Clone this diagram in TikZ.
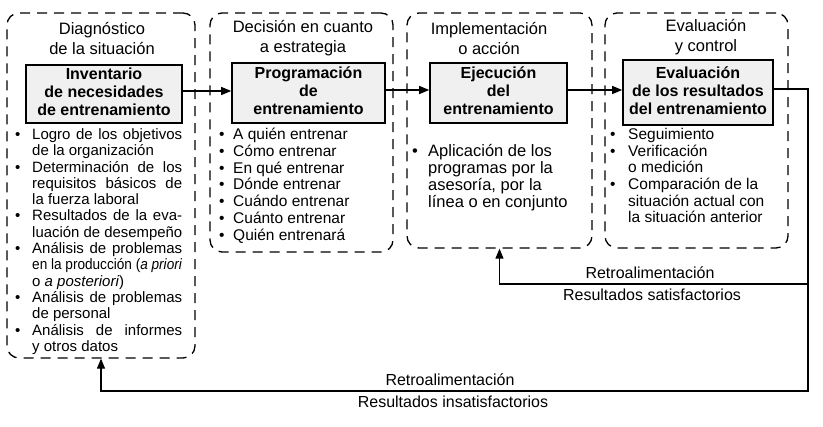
\documentclass[tikz,border=0pt]{standalone}
\usepackage{fontspec}
\usepackage{graphicx}
\setmainfont{Liberation Sans}
\usetikzlibrary{arrows.meta}
\newlength\jw
\newlength\bw
\newsavebox\jlbox
\newcommand\jl[1]{\sbox\jlbox{#1}\ifdim\wd\jlbox>\jw\resizebox{\jw}{\height}{\usebox\jlbox}\else\makebox[\jw][s]{#1}\fi}
\newcommand\bi{\makebox[\bw][l]{•}}
\newcommand\ci{\hspace*{\bw}}
\tikzset{
  grp/.style={draw, rounded corners=12pt, line width=1.3pt, dash pattern=on 10pt off 7pt, inner sep=0pt},
  ibox/.style={draw, line width=1.6pt, fill=gray!12, inner sep=0pt, font=\fontsize{16}{18}\selectfont\bfseries},
  ttl/.style={inner sep=0pt, anchor=base, font=\fontsize{16.5}{20}\selectfont},
  lst/.style={inner sep=0pt, anchor=base west},
  lbl/.style={inner sep=0pt, anchor=base, font=\fontsize{16}{19}\selectfont},
  conn/.style={line width=1.1pt},
  arr/.style={line width=1.1pt, -{Triangle[length=10pt,width=8pt]}}
}
\begin{document}
\begin{tikzpicture}[x=1pt,y=-1pt]
\useasboundingbox (0,0) rectangle (823,427);
% groups
\node[grp, minimum width=188pt, minimum height=345pt] (g1) at (101,185.5) {};
\node[grp, minimum width=183pt, minimum height=239pt] (g2) at (301.5,132.5) {};
\node[grp, minimum width=185pt, minimum height=235pt] (g3) at (499.5,130.5) {};
\node[grp, minimum width=183pt, minimum height=235pt] (g4) at (696.5,130.5) {};
% titles
\node[ttl] (t1) at (102,35) {\begin{tabular}[t]{@{}c@{}}Diagnóstico\\de la situación\end{tabular}};
\node[ttl] (t2) at (303,33) {\begin{tabular}[t]{@{}c@{}}Decisión en cuanto\\a estrategia\end{tabular}};
\node[ttl] (t3) at (489,35) {\begin{tabular}[t]{@{}c@{}}Implementación\\o acción\end{tabular}};
\node[ttl] (t4) at (706,32) {\begin{tabular}[t]{@{}c@{}}Evaluación\\y control\end{tabular}};
% inner boxes
\node[ibox, minimum width=156pt, minimum height=58pt] (b1) at (104,94) {\begin{tabular}{@{}c@{}}Inventario\\de necesidades\\de entrenamiento\end{tabular}};
\node[ibox, minimum width=153pt, minimum height=60pt] (b2) at (308.5,93) {\begin{tabular}{@{}c@{}}Programación\\de\\entrenamiento\end{tabular}};
\node[ibox, minimum width=137pt, minimum height=60pt] (b3) at (498.5,93) {\begin{tabular}{@{}c@{}}Ejecución\\del\\entrenamiento\end{tabular}};
\node[ibox, minimum width=150pt, minimum height=65pt] (b4) at (698,92.5) {\begin{tabular}{@{}c@{}}Evaluación\\de los resultados\\del entrenamiento\end{tabular}};
% lists
\node[lst] (l1) at (15,139.5) {\fontsize{15}{16.3}\selectfont\setlength\bw{17pt}\setlength\jw{150pt}%
\begin{tabular}[t]{@{}l@{}}
\bi\jl{Logro de los objetivos}\\
\ci de la organización\\
\bi\jl{Determinación de los}\\
\ci\jl{requisitos básicos de}\\
\ci la fuerza laboral\\
\bi\jl{Resultados de la eva-}\\
\ci\jl{luación de desempeño}\\
\bi\jl{Análisis de problemas}\\
\ci\jl{en la producción (\textit{a priori}}\\
\ci o \textit{a posteriori})\\
\bi\jl{Análisis de problemas}\\
\ci de personal\\
\bi\jl{Análisis de informes}\\
\ci y otros datos
\end{tabular}};
\node[lst] (l2) at (219,139.5) {\fontsize{15.5}{16.8}\selectfont\setlength\bw{14pt}%
\begin{tabular}[t]{@{}l@{}}
\bi A quién entrenar\\
\bi Cómo entrenar\\
\bi En qué entrenar\\
\bi Dónde entrenar\\
\bi Cuándo entrenar\\
\bi Cuánto entrenar\\
\bi Quién entrenará
\end{tabular}};
\node[lst] (l3) at (412,156.5) {\fontsize{16.5}{16.7}\selectfont\setlength\bw{16pt}%
\begin{tabular}[t]{@{}l@{}}
\bi Aplicación de los\\
\ci programas por la\\
\ci asesoría, por la\\
\ci línea o en conjunto
\end{tabular}};
\node[lst] (l4) at (610,139.5) {\fontsize{15.5}{16.7}\selectfont\setlength\bw{18pt}%
\begin{tabular}[t]{@{}l@{}}
\bi Seguimiento\\
\bi Verificación\\
\ci o medición\\
\bi Comparación de la\\
\ci situación actual con\\
\ci la situación anterior
\end{tabular}};
% connectors
\draw[arr] ([yshift=3pt]b1.east) -- ([yshift=3pt]b1.east -| b2.west);
\draw[arr] ([yshift=3pt]b2.east) -- ([yshift=3pt]b2.east -| b3.west);
\draw[arr] ([yshift=3pt]b3.east) -- ([yshift=3pt]b3.east -| b4.west);
\coordinate (fb) at (808,391);
\coordinate (fs) at (808,284);
\draw[arr] ([yshift=3.5pt]b4.east) -| (fb) -| (g1.south);
\draw[arr] (fs) -| (g3.south);
% labels
\node[lbl] (r1) at (650,279) {Retroalimentación};
\node[lbl] (s1) at (652,301) {Resultados satisfactorios};
\node[lbl] (r2) at (450,386) {Retroalimentación};
\node[lbl] (s2) at (453,408) {Resultados insatisfactorios};
\end{tikzpicture}
\end{document}
